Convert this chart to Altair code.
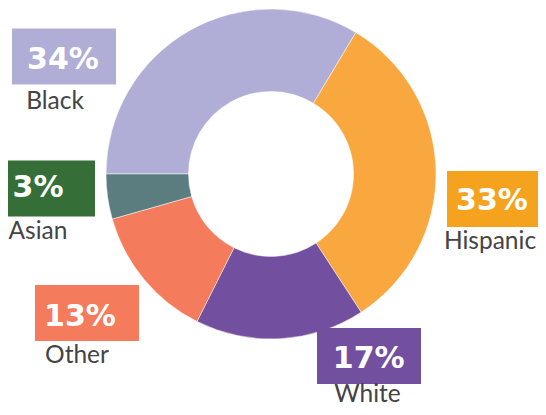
import math
import altair as alt
import pandas as pd

# data
groups = ["Black", "Hispanic", "White", "Other", "Asian"]
values = [33.6, 32.2, 16.6, 13.2, 4.4]          # slice sizes as drawn
pct_labels = ["34%", "33%", "17%", "13%", "3%"]  # printed labels
slice_colors = ["#b0aed6", "#f9a83f", "#734f9f", "#f47b5c", "#5b7d80"]
box_colors = ["#b0aed6", "#f5a31f", "#734f9f", "#f47b5c", "#356f37"]

# label layout (pixels inside the chart)
box_cx = [56, 491, 361, 79, 35]
box_cy = [48.5, 191, 348, 305, 180.5]
pct_x = [55, 484, 360.7, 72, 30]
pct_y = [61, 202, 359.5, 317.7, 189.3]
name_x = [47, 482, 359.5, 69, 30]
name_y = [101, 241, 394, 355.3, 231]

W, H = 530, 399
CX, CY = 263, 166

df = pd.DataFrame({"group": groups, "value": values, "order": range(len(groups))})
lab = pd.DataFrame({
    "group": groups, "pct": pct_labels,
    "bx": box_cx, "by": box_cy, "px": pct_x, "py": pct_y, "nx": name_x, "ny": name_y,
})

color_scale = alt.Scale(domain=groups, range=slice_colors)
box_scale = alt.Scale(domain=groups, range=box_colors)

donut = alt.Chart(df).mark_arc(innerRadius=82.5, outerRadius=165, stroke="white", strokeWidth=0.5).encode(
    theta=alt.Theta("value:Q", stack=True, scale=alt.Scale(range=[-math.pi / 2, 3 * math.pi / 2])),
    color=alt.Color("group:N", scale=color_scale, legend=None),
    order=alt.Order("order:Q"),
    x=alt.value(CX),
    y=alt.value(CY),
)

boxes = alt.Chart(lab).transform_calculate(
    x1="datum.bx - 52", x2="datum.bx + 52", y1="datum.by - 28", y2="datum.by + 28"
).mark_rect().encode(
    x=alt.X("x1:Q", scale=None, axis=None),
    x2="x2:Q",
    y=alt.Y("y1:Q", scale=None, axis=None),
    y2="y2:Q",
    color=alt.Color("group:N", scale=box_scale, legend=None),
)

pct_text = alt.Chart(lab).mark_text(
    font="DejaVu Sans", fontWeight="bold", fontSize=30, color="white", align="center", baseline="alphabetic"
).encode(
    x=alt.X("px:Q", scale=None, axis=None),
    y=alt.Y("py:Q", scale=None, axis=None),
    text="pct:N",
)

name_text = alt.Chart(lab).mark_text(
    font="Lato", fontSize=24.5, color="#444444", align="center", baseline="alphabetic"
).encode(
    x=alt.X("nx:Q", scale=None, axis=None),
    y=alt.Y("ny:Q", scale=None, axis=None),
    text="group:N",
)

chart = alt.layer(donut, boxes, pct_text, name_text).resolve_scale(color="independent").properties(
    width=W, height=H, padding=0, autosize=alt.AutoSizeParams(type="none")
).configure_view(stroke=None)

chart.save("out.html", embed_options={"renderer": "svg", "actions": False})
